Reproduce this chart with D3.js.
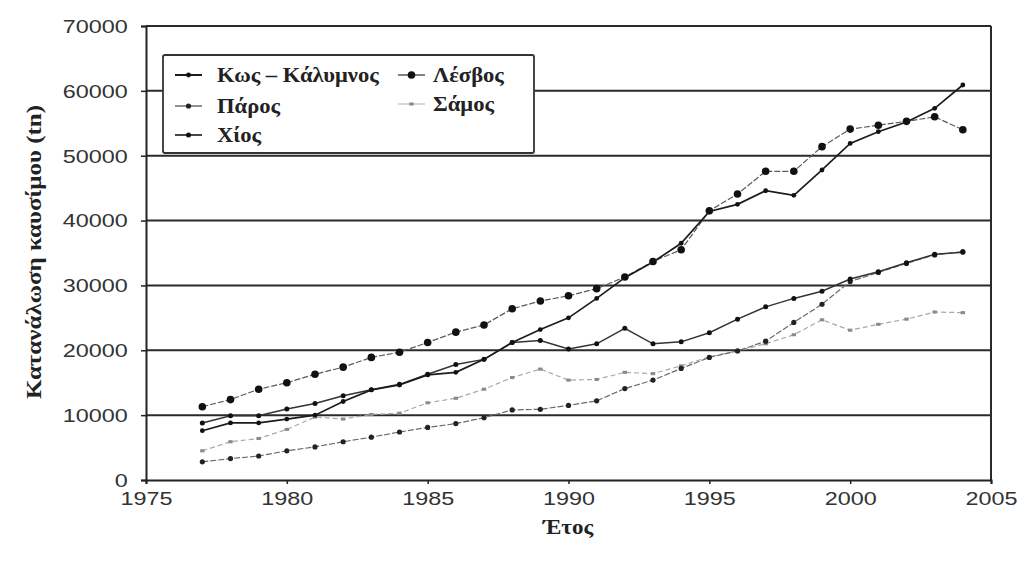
<!DOCTYPE html>
<html><head><meta charset="utf-8">
<script src="https://cdn.jsdelivr.net/npm/d3@7"></script>
<style>
html,body{margin:0;padding:0;background:#fff;}
svg{display:block;}
</style></head>
<body>
<svg id="chart" width="1018" height="561"></svg>
<script>
const years = [1977,1978,1979,1980,1981,1982,1983,1984,1985,1986,1987,1988,1989,1990,1991,1992,1993,1994,1995,1996,1997,1998,1999,2000,2001,2002,2003,2004];
const kos    = [7600,8800,8800,9400,10000,12100,13900,14650,16200,16600,18600,21200,23200,25000,28000,31200,33600,36500,41400,42500,44600,43900,47800,51900,53700,55200,57300,60900];
const lesvos = [11300,12400,14000,15000,16300,17400,18900,19700,21200,22800,23900,26400,27600,28400,29500,31300,33700,35500,41500,44100,47600,47600,51400,54100,54700,55300,56000,54000];
const paros  = [2800,3300,3700,4500,5100,5900,6600,7400,8100,8700,9600,10800,10900,11500,12200,14100,15400,17200,18900,19900,21400,24300,27100,30600,32000,33400,34700,35200];
const chios  = [8800,9900,9900,10950,11800,13000,13900,14750,16300,17800,18600,21200,21500,20200,21000,23400,21000,21300,22700,24800,26700,28000,29100,31000,32100,33500,34800,35100];
const samos  = [4500,5900,6400,7800,9700,9400,10100,10300,11900,12600,14000,15800,17100,15400,15500,16600,16400,17600,19000,19900,21000,22400,24700,23100,24000,24800,25900,25800];
const seriesNames = ["Κως – Κάλυμνος","Πάρος","Χίος","Λέσβος","Σάμος"];
const xTicks = [1975,1980,1985,1990,1995,2000,2005];
const yTicks = [0,10000,20000,30000,40000,50000,60000,70000];

const styles = {
  "Κως – Κάλυμνος": {stroke:"#1c1c1c", width:1.7, dash:null, marker:"circle", r:2.4, fill:"#111"},
  "Πάρος": {stroke:"#6a6a6a", width:1.2, dash:"6,2", marker:"circle", r:2.6, fill:"#222"},
  "Χίος": {stroke:"#333", width:1.5, dash:null, marker:"circle", r:2.5, fill:"#111"},
  "Λέσβος": {stroke:"#5a5a5a", width:1.2, dash:"6,2", marker:"circle", r:3.8, fill:"#111"},
  "Σάμος": {stroke:"#a8a8a8", width:1.2, dash:"5,3", marker:"square", r:2.2, fill:"#8a8a8a"}
};
const dataMap = {"Κως – Κάλυμνος":kos,"Πάρος":paros,"Χίος":chios,"Λέσβος":lesvos,"Σάμος":samos};

const svg = d3.select("#chart");
const L = 146, R = 991, T = 26, B = 480;
const x = d3.scaleLinear().domain([1975,2005]).range([L,R]);
const y = d3.scaleLinear().domain([0,70000]).range([B,T]);

// gridlines
svg.append("g").selectAll("line").data(yTicks.filter(v=>v>0)).join("line")
  .attr("x1",L).attr("x2",R).attr("y1",d=>y(d)).attr("y2",d=>y(d))
  .attr("stroke","#2a2a2a").attr("stroke-width",2);
// right border
svg.append("line").attr("x1",R).attr("x2",R).attr("y1",T).attr("y2",B)
  .attr("stroke","#2a2a2a").attr("stroke-width",2);

// axes
const yAxis = svg.append("g").attr("transform",`translate(${L},0)`)
  .call(d3.axisLeft(y).tickValues(yTicks).tickSize(5).tickPadding(13).tickFormat(d3.format("d")));
yAxis.select(".domain").attr("stroke","#222").attr("stroke-width",2);
yAxis.selectAll(".tick line").attr("stroke","#222").attr("stroke-width",1.5);
yAxis.selectAll("text").attr("font-family","Liberation Sans, Arial, sans-serif").attr("font-size",18)
  .attr("fill","#333").attr("transform","scale(1.3,1)").attr("x",-14).attr("dy","0.35em");

const xAxis = svg.append("g").attr("transform",`translate(0,${B})`)
  .call(d3.axisBottom(x).tickValues(xTicks).tickSize(4).tickPadding(8).tickFormat(d3.format("d")));
xAxis.select(".domain").attr("stroke","#222").attr("stroke-width",2);
xAxis.selectAll(".tick line").attr("stroke","#222").attr("stroke-width",1.5);
xAxis.selectAll("text").attr("font-family","Liberation Sans, Arial, sans-serif").attr("font-size",18)
  .attr("fill","#333").attr("transform","scale(1.3,1)").attr("y",12).attr("dy","0.71em");

// series
const line = d3.line().x((d,i)=>x(years[i])).y(d=>y(d));
const drawOrder = ["Σάμος","Πάρος","Χίος","Λέσβος","Κως – Κάλυμνος"];
drawOrder.forEach(name=>{
  const s = styles[name], vals = dataMap[name];
  const g = svg.append("g");
  g.append("path").datum(vals).attr("d",line).attr("fill","none")
    .attr("stroke",s.stroke).attr("stroke-width",s.width)
    .attr("stroke-dasharray",s.dash);
  if (s.marker==="circle") {
    g.selectAll("circle").data(vals).join("circle")
      .attr("cx",(d,i)=>x(years[i])).attr("cy",d=>y(d)).attr("r",s.r).attr("fill",s.fill);
  } else {
    g.selectAll("rect").data(vals).join("rect")
      .attr("x",(d,i)=>x(years[i])-s.r).attr("y",d=>y(d)-s.r*0.7)
      .attr("width",s.r*2).attr("height",s.r*1.4).attr("fill",s.fill);
  }
});

// legend
const leg = svg.append("g");
leg.append("rect").attr("x",163).attr("y",55).attr("width",371).attr("height",98)
  .attr("rx",2).attr("fill","#fff").attr("stroke","#333").attr("stroke-width",1.8);
const legPos = {
  "Κως – Κάλυμνος":[175,75,42], "Πάρος":[175,106,42], "Χίος":[175,135,42],
  "Λέσβος":[398,75,35], "Σάμος":[398,104,35]
};
seriesNames.forEach(name=>{
  const [lx,ly,off] = legPos[name], s = styles[name];
  const gg = leg.append("g");
  gg.append("line").attr("x1",lx).attr("x2",lx+27).attr("y1",ly).attr("y2",ly)
    .attr("stroke",name==="Σάμος"?"#c8c8c8":s.stroke).attr("stroke-width",s.width+0.3);
  if (s.marker==="circle") gg.append("circle").attr("cx",lx+13.5).attr("cy",ly).attr("r",s.r).attr("fill",s.fill);
  else gg.append("rect").attr("x",lx+13.5-s.r).attr("y",ly-s.r*0.7).attr("width",s.r*2).attr("height",s.r*1.4).attr("fill",s.fill);
  gg.append("text").attr("transform",`translate(${lx+off},${ly}) scale(1.13,1)`)
    .attr("font-family","Liberation Serif, Times New Roman, serif")
    .attr("font-weight","bold").attr("font-size",20).attr("fill","#222")
    .attr("dy","0.35em").text(name);
});

// axis titles
svg.append("text").attr("transform","translate(34,252) rotate(-90) scale(1.25,1)")
  .attr("text-anchor","middle").attr("dy","0.35em")
  .attr("font-family","Liberation Serif, Times New Roman, serif").attr("font-weight","bold")
  .attr("font-size",20).attr("fill","#222").text("Κατανάλωση καυσίμου (tn)");
svg.append("text").attr("transform","translate(568,527) scale(1.15,1)")
  .attr("text-anchor","middle").attr("dy","0.35em")
  .attr("font-family","Liberation Serif, Times New Roman, serif").attr("font-weight","bold")
  .attr("font-size",20).attr("fill","#222").text("Έτος");
</script>
</body></html>
